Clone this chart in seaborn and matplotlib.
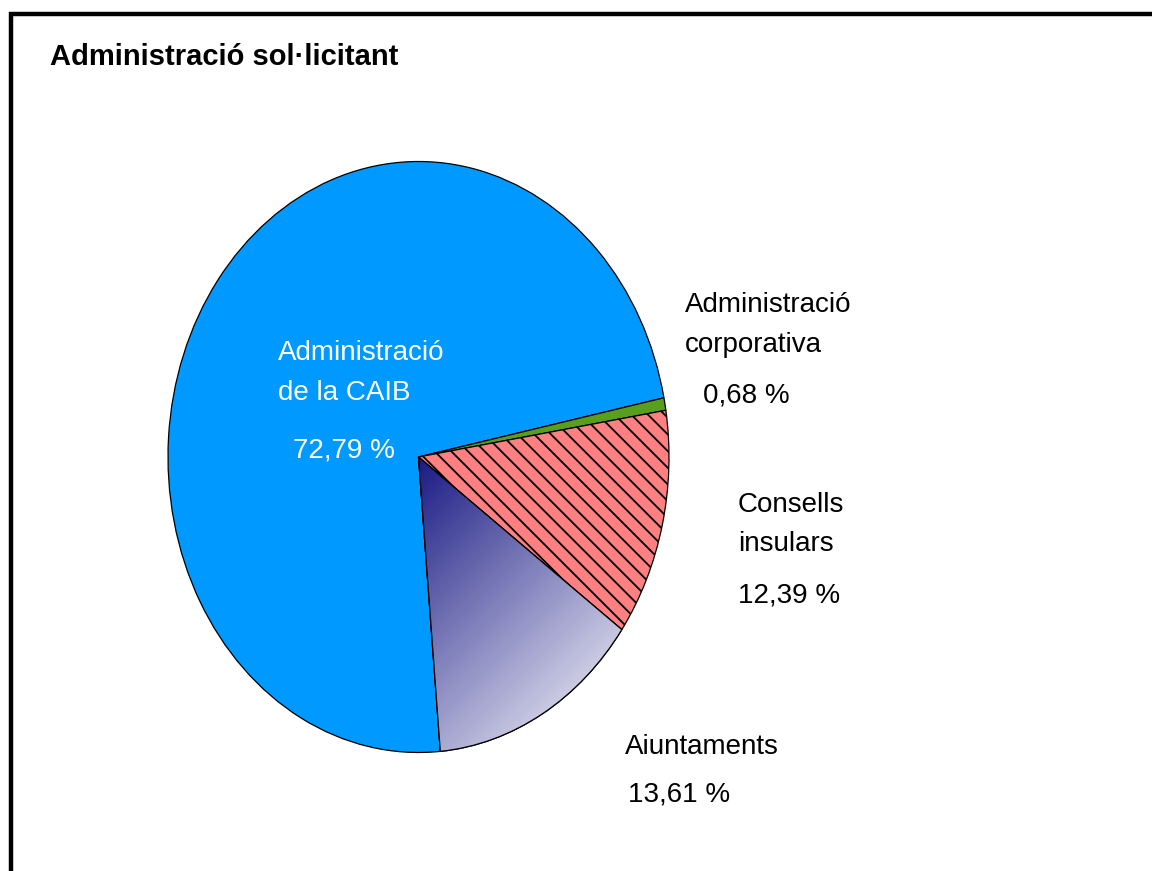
import numpy as np
import matplotlib
matplotlib.use("Agg")
import matplotlib.pyplot as plt
import seaborn as sns
from matplotlib.colors import LinearSegmentedColormap
from matplotlib.patches import Rectangle, Wedge

# ---- data ----
categories = ["Administració\nde la CAIB", "Administració\ncorporativa",
              "Consells\ninsulars", "Aiuntaments"]
values = [72.79, 0.68, 12.39, 13.61]
title = "Administració sol·licitant"

sns.set_theme(style="white")
FONT = ["Liberation Sans", "DejaVu Sans"]
plt.rcParams["font.family"] = FONT
plt.rcParams["hatch.linewidth"] = 1.3

W, H = 1152, 871
fig = plt.figure(figsize=(W / 100, H / 100), dpi=100)
fig.patch.set_facecolor("white")

def fx(x):
    return x / W

def fy(y):
    return 1 - y / H

# pie axes (elliptical pie)
cx, cy, rx, ry = 418.5, 457, 250.5, 295.5
ax = fig.add_axes([fx(cx - rx), fy(cy + ry), 2 * rx / W, 2 * ry / H])
colors = ["#0099FF", "#5A9E1E", "#FF8080", "#2020A0"]
wedges, _ = ax.pie(values, colors=colors, startangle=-85, counterclock=False,
                   wedgeprops=dict(edgecolor="black", linewidth=0.9))
wedges[2].set_hatch("\\\\")

# gradient fill for Aiuntaments wedge
grad_cmap = LinearSegmentedColormap.from_list("g", ["#1a1a85", "#ffffff"])
xs = np.linspace(0, 1, 300)
ys = np.linspace(0, -1, 300)
X, Y = np.meshgrid(xs, ys)
T = (X * rx + (-Y) * ry) / (rx * 0.82 + ry)
im = ax.imshow(T, extent=(0, 1, -1, 0), origin="upper", cmap=grad_cmap,
               vmin=0, vmax=1, aspect="auto", zorder=wedges[3].get_zorder() + 0.1,
               interpolation="bilinear")
im.set_clip_path(wedges[3])
outline = Wedge(wedges[3].center, wedges[3].r, wedges[3].theta1, wedges[3].theta2,
                facecolor="none", edgecolor="black", linewidth=0.9,
                zorder=im.get_zorder() + 0.1)
ax.add_patch(outline)
ax.set_aspect("auto")
ax.set_xlim(-1, 1)
ax.set_ylim(-1, 1)
ax.axis("off")

# title
fig.text(fx(50), fy(65), title, fontsize=21, fontweight="bold",
         ha="left", va="baseline", color="black")

# labels
pct = [f"{v:.2f}".replace(".", ",") + " %" for v in values]
label_cfg = [
    # (x_name, baselines of name lines, x_pct, baseline pct, color)
    (278, [360, 400], 293, 457, "white"),
    (685, [312, 352], 703, 402, "black"),
    (738, [512, 551], 738, 603, "black"),
    (625, [754], 628, 801, "black"),
]
for name, p, (xn, bls, xp, bp, col) in zip(categories, pct, label_cfg):
    for line, bl in zip(name.split("\n"), bls):
        fig.text(fx(xn), fy(bl), line, fontsize=20, ha="left", va="baseline", color=col)
    fig.text(fx(xp), fy(bp), p, fontsize=20, ha="left", va="baseline", color=col)

# outer frame
fig.add_artist(Rectangle((fx(11), fy(900)), fx(1200), fy(14) - fy(900),
                         transform=fig.transFigure, fill=False,
                         edgecolor="black", linewidth=3.2))

fig.savefig("out.png", dpi=100, facecolor="white")
